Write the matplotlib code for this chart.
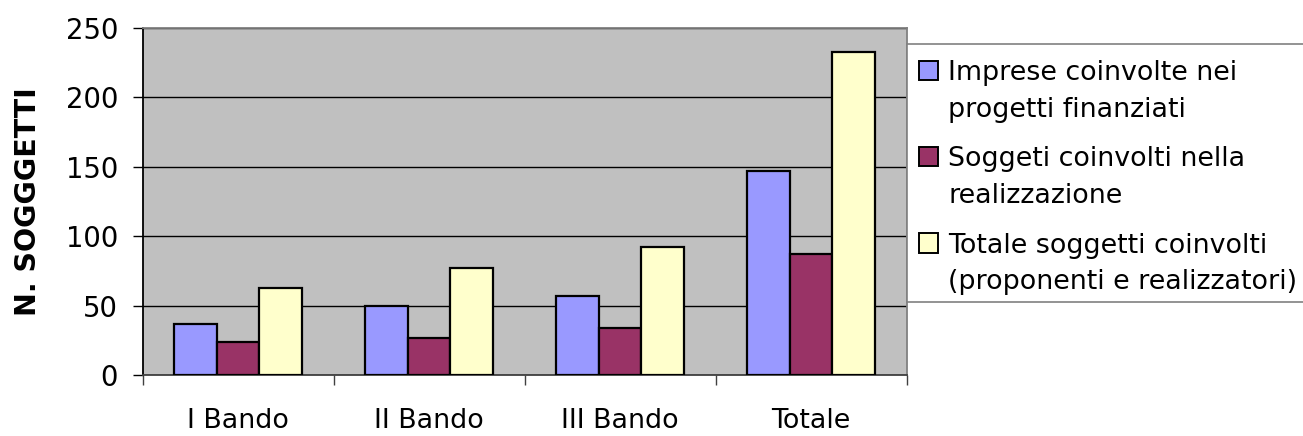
import matplotlib
matplotlib.use("Agg")
import matplotlib.pyplot as plt
from matplotlib.patches import Rectangle
import numpy as np

plt.rcParams['font.family'] = ['DejaVu Sans']

categories = ["I Bando", "II Bando", "III Bando", "Totale"]
series_names = [
    "Imprese coinvolte nei\nprogetti finanziati",
    "Soggeti coinvolti nella\nrealizzazione",
    "Totale soggetti coinvolti\n(proponenti e realizzatori)",
]
imprese = [37, 50, 57, 147]
soggetti = [24, 27, 34, 87]
totale = [63, 77, 92, 233]
y_ticks = [0, 50, 100, 150, 200, 250]
y_label = "N. SOGGGETTI"

colors = ["#9999FF", "#993366", "#FFFFCC"]
fs = 19.4
W, H = 1303, 436


def fx(px):
    return px / W


def fy(py):
    return 1 - py / H


fig = plt.figure(figsize=(W / 100, H / 100), dpi=100)
ax = fig.add_axes([fx(142.5), fy(375), (906.7 - 142.5) / W, (375 - 28) / H])
ax.set_facecolor("#C0C0C0")

x = np.arange(len(categories))
w = 0.223
for i, vals in enumerate([imprese, soggetti, totale]):
    ax.bar(x + (i - 1) * w, vals, width=w, color=colors[i],
           edgecolor="black", linewidth=1.6, zorder=3)

ax.set_xlim(-0.5, len(categories) - 0.5)
ax.set_ylim(0, 250)
ax.set_yticks(y_ticks)
ax.set_yticklabels([str(t) for t in y_ticks], fontsize=fs + 0.4)
ax.yaxis.grid(True, color="black", linewidth=1.0, zorder=1)
ax.set_axisbelow(True)

ax.set_xticks(x)
ax.set_xticklabels(categories, fontsize=fs)
ax.set_xticks(np.arange(-0.5, len(categories)), minor=True)
ax.tick_params(axis="x", which="major", length=0, pad=24)
ax.tick_params(axis="x", which="minor", length=7, width=1, color="#404040")
ax.tick_params(axis="y", length=7, width=1, pad=10.5, color="black")

ax.spines["left"].set_color("black")
ax.spines["bottom"].set_color("#404040")
ax.spines["top"].set_color("#808080")
ax.spines["right"].set_color("#808080")
for s in ax.spines.values():
    s.set_linewidth(1.3)

ax.set_ylabel(y_label, fontsize=20.5, fontweight="bold", va="center")
ax.yaxis.set_label_coords((28.5 - 142.5) / (906.7 - 142.5), 0.5)

# legend: open box to the right of the plot, one swatch per series
fig.patches.append(Rectangle((fx(906.7), fy(302)), 420 / W, (302 - 44) / H,
                             transform=fig.transFigure, facecolor="white",
                             edgecolor="#808080", linewidth=1.2, zorder=0))
first_baselines = [80, 166.5, 252.5]
line_step = 36.7
sw = 19.3
for color, name, base in zip(colors, series_names, first_baselines):
    fig.patches.append(Rectangle((fx(918.5), fy(base)), sw / W, sw / H,
                                 transform=fig.transFigure, facecolor=color,
                                 edgecolor="black", linewidth=1.4, zorder=2))
    for k, line in enumerate(name.split("\n")):
        fig.text(fx(948.5), fy(base + k * line_step), line, fontsize=fs,
                 ha="left", va="baseline", color="black")

fig.savefig("out.png", dpi=100)
